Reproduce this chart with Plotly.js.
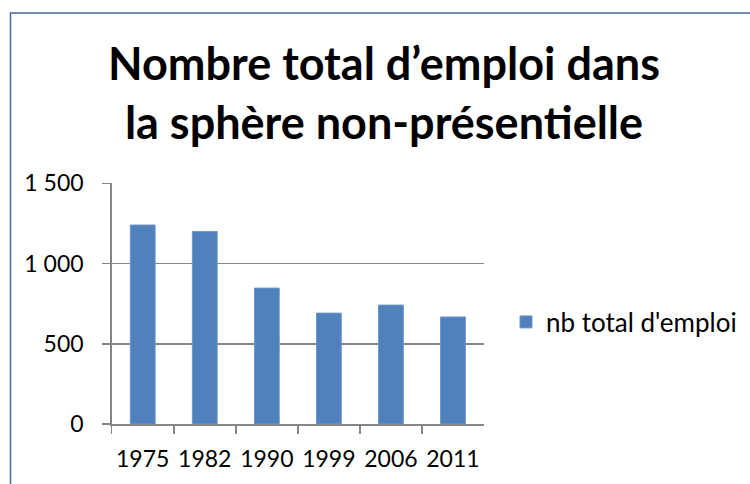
<!DOCTYPE html>
<html>
<head>
<meta charset="utf-8">
<script src="https://cdn.plot.ly/plotly-3.0.1.min.js"></script>
<style>html,body{margin:0;padding:0;background:#fff;}#chart{width:750px;height:484px;}</style>
</head>
<body>
<div id="chart"></div>
<script>
const years = ['1975', '1982', '1990', '1999', '2006', '2011'];
const emplois = [1240, 1200, 847, 691, 741, 667];
const seriesName = "nb total d'emploi";
const chartTitle = 'Nombre total d’emploi dans<br>la sphère non-présentielle';
const yTickVals = [0, 500, 1000, 1500];
const yTickText = ['0', '500', '1 000', '1 500'];

const W = 750, H = 484;
const font = 'Lato, Carlito, Calibri, sans-serif';

const trace = {
  type: 'bar',
  x: years,
  y: emplois,
  name: seriesName,
  width: 0.4,
  marker: {color: '#4F81BD', line: {color: '#6f97c9', width: 1}},
  showlegend: true
};

const layout = {
  width: W, height: H,
  margin: {l: 0, r: 0, t: 0, b: 0},
  paper_bgcolor: '#ffffff',
  plot_bgcolor: '#ffffff',
  font: {family: font, color: '#000000', size: 22},
  title: {
    text: chartTitle,
    font: {family: font, size: 45, color: '#000000', weight: 'bold'},
    x: 384 / W, xanchor: 'center', xref: 'paper',
    y: 1 - 80 / H, yanchor: 'top', yref: 'container'
  },
  xaxis: {
    domain: [111.7 / W, 484 / W],
    type: 'category',
    tickson: 'boundaries',
    tickangle: 0,
    ticks: 'outside', ticklen: 8, tickwidth: 1.5, tickcolor: '#868686',
    showline: true, linecolor: '#868686', linewidth: 1.5,
    showgrid: false, zeroline: false,
    ticklabelstandoff: 14,
    tickfont: {family: font, size: 23, color: '#000000'},
    fixedrange: true
  },
  yaxis: {
    domain: [(H - 424) / H, (H - 183.3) / H],
    range: [0, 1500],
    tickvals: yTickVals, ticktext: yTickText,
    ticks: 'outside', ticklen: 8, tickwidth: 1.5, tickcolor: '#868686',
    showline: true, linecolor: '#868686', linewidth: 1.5,
    showgrid: true, gridcolor: '#868686', gridwidth: 1.5,
    zeroline: false,
    ticklabelstandoff: 14,
    tickfont: {family: font, size: 23, color: '#000000'},
    fixedrange: true
  },
  legend: {
    x: 506 / W, xanchor: 'left',
    y: (H - 322) / H, yanchor: 'middle',
    font: {family: font, size: 26, color: '#000000'},
    bgcolor: 'rgba(0,0,0,0)'
  },
  shapes: [{
    type: 'rect', xref: 'paper', yref: 'paper',
    x0: 10.5 / W, x1: 1.05, y0: -0.05, y1: (H - 13) / H,
    line: {color: '#4a6a9a', width: 1.5},
    fillcolor: 'rgba(0,0,0,0)', layer: 'below'
  }],
  bargap: 0.6
};

Plotly.newPlot('chart', [trace], layout, {displayModeBar: false, staticPlot: true});
</script>
</body>
</html>
